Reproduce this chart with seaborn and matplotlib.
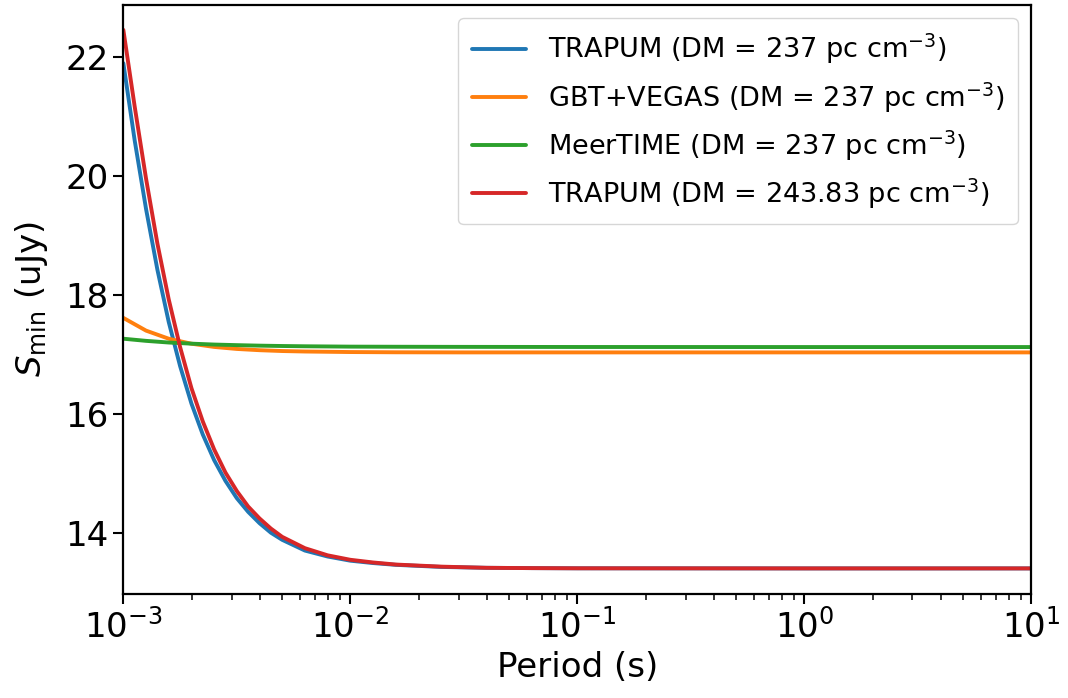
import numpy as np
import pandas as pd
import matplotlib
matplotlib.use("Agg")
import matplotlib.pyplot as plt
import seaborn as sns

log_period_steep = [-3.00, -2.95, -2.90, -2.85, -2.80, -2.75, -2.70, -2.65, -2.60,
                    -2.55, -2.50, -2.45, -2.40, -2.35, -2.30, -2.20, -2.10, -2.00,
                    -1.90, -1.80, -1.60, -1.40, -1.20, -1.00, 0.00, 1.00]
trapum_237 = [21.89, 20.59, 19.44, 18.42, 17.54, 16.80, 16.17, 15.65, 15.22,
              14.87, 14.58, 14.35, 14.16, 14.00, 13.88, 13.70, 13.60, 13.53,
              13.49, 13.46, 13.425, 13.41, 13.405, 13.402, 13.40, 13.40]
trapum_243 = [22.45, 21.16, 19.95, 18.86, 17.92, 17.12, 16.43, 15.87, 15.40,
              15.01, 14.70, 14.44, 14.24, 14.07, 13.93, 13.74, 13.62, 13.545,
              13.50, 13.465, 13.43, 13.41, 13.405, 13.402, 13.40, 13.40]

log_period_flat = [-3.0, -2.9, -2.8, -2.7, -2.6, -2.5, -2.4, -2.3, -2.2, -2.0,
                   -1.8, -1.5, -1.0, 0.0, 1.0]
gbt_vegas = [17.61, 17.396, 17.26, 17.176, 17.122, 17.088, 17.067, 17.053,
             17.045, 17.036, 17.032, 17.03, 17.03, 17.03, 17.03]
meertime = [17.26, 17.224, 17.196, 17.177, 17.162, 17.152, 17.1435, 17.1375,
            17.133, 17.127, 17.125, 17.123, 17.121, 17.12, 17.12]

labels = [r"TRAPUM (DM = 237 pc cm$^{-3}$)",
          r"GBT+VEGAS (DM = 237 pc cm$^{-3}$)",
          r"MeerTIME (DM = 237 pc cm$^{-3}$)",
          r"TRAPUM (DM = 243.83 pc cm$^{-3}$)"]
colors = ["#1f77b4", "#ff7f0e", "#2ca02c", "#d62728"]

sns.set_style("ticks", rc={"text.color": "black", "axes.labelcolor": "black",
                           "xtick.color": "black", "ytick.color": "black",
                           "axes.edgecolor": "black"})
plt.rcParams["font.family"] = ["DejaVu Sans"]
plt.rcParams["mathtext.fontset"] = "dejavusans"

fig = plt.figure(figsize=(10.68, 6.98), dpi=100)
ax = fig.add_axes([0.1155, 0.149, 0.8500, 0.8440])

series = [
    (log_period_steep, trapum_237),
    (log_period_flat, gbt_vegas),
    (log_period_flat, meertime),
    (log_period_steep, trapum_243),
]
for (lp, vals), lab, col in zip(series, labels, colors):
    df = pd.DataFrame({"Period": np.power(10.0, np.array(lp)), "Smin": vals})
    sns.lineplot(data=df, x="Period", y="Smin", ax=ax, color=col, lw=2.8,
                 label=lab, sort=False)

ax.set_xscale("log")
ax.set_xlim(1e-3, 10)
ax.set_ylim(12.97, 22.87)
ax.set_yticks([14, 16, 18, 20, 22])
ax.set_xlabel("Period (s)", fontsize=24.5, labelpad=5)
ax.set_ylabel(r"$S_{\rm min}$ (uJy)", fontsize=24.5, labelpad=11)
ax.tick_params(axis="both", which="major", labelsize=24.5, length=7, width=1.5,
               direction="out")
ax.tick_params(axis="x", which="minor", length=4, width=1.1)
for sp in ax.spines.values():
    sp.set_linewidth(1.6)
    sp.set_visible(True)

leg = ax.legend(loc="upper right", fontsize=19.5, frameon=True, handlelength=2.0,
                borderpad=0.5, labelspacing=0.5)
leg.get_frame().set_edgecolor("#cccccc")

fig.savefig("out.png", dpi=100)
